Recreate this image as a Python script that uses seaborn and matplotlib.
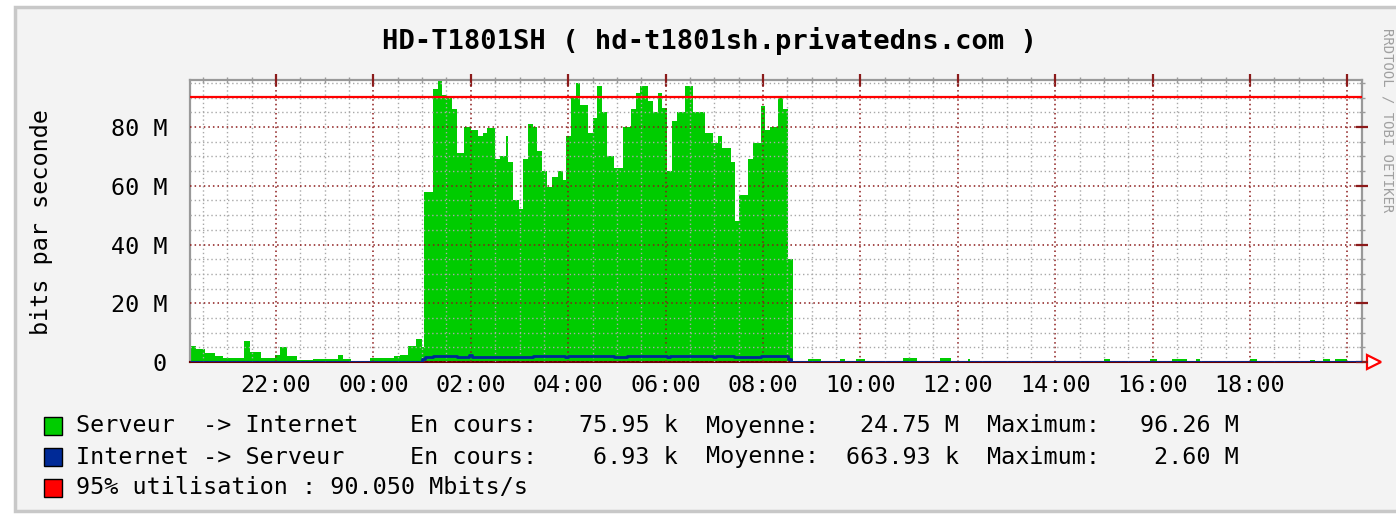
import pandas as pd
import seaborn as sns
import matplotlib.pyplot as plt
import matplotlib.dates as mdates
from matplotlib.patches import Rectangle
from matplotlib.ticker import MultipleLocator, FuncFormatter

# Serveur -> Internet (bits/s, in M), step values starting at each time
green_times = ["20:15", "20:21", "20:33", "20:45", "20:55", "21:20", "21:28", "21:41",
               "21:59", "22:05", "22:14", "22:26", "22:46", "23:16", "23:22", "23:32",
               "23:56", "00:25", "00:33", "00:43", "00:52", "01:00", "01:02", "01:07",
               "01:13", "01:19", "01:25", "01:31", "01:37", "01:43", "01:51", "02:00",
               "02:09", "02:15", "02:20", "02:30", "02:36", "02:43", "02:46", "02:52",
               "02:59", "03:04", "03:10", "03:16", "03:22", "03:28", "03:34", "03:40",
               "03:47", "03:53", "03:57", "04:03", "04:09", "04:15", "04:24", "04:30",
               "04:36", "04:42", "04:48", "04:56", "05:08", "05:17", "05:23", "05:29",
               "05:38", "05:44", "05:50", "05:56", "06:02", "06:08", "06:14", "06:24",
               "06:34", "06:49", "06:58", "07:04", "07:10", "07:20", "07:26", "07:30",
               "07:41", "07:48", "07:57", "08:03", "08:09", "08:19", "08:25", "08:31",
               "08:37", "08:55", "09:11", "09:35", "09:41", "09:54", "10:06", "10:52",
               "11:10", "11:38", "11:51", "12:12", "12:15", "15:00", "15:08", "15:57",
               "16:06", "16:24", "16:43", "16:53", "16:59", "18:00", "18:09", "19:14",
               "19:20", "19:30", "19:38", "19:45", "20:00", "20:18"]
green_vals = [5.5, 4.5, 3.0, 2.0, 1.3, 7.0, 3.5, 1.5,
              2.5, 5.0, 2.0, 0.8, 1.0, 2.5, 1.0, 0.3,
              1.3, 2.0, 2.4, 5.5, 8.0, 5.0, 58, 58,
              93, 96.2, 91, 90, 86, 71, 80, 79,
              77, 78, 79.5, 69, 70, 77, 68, 55,
              52, 69, 81, 80, 72, 65, 59.5, 63,
              65, 62, 77, 90, 95, 87.5, 78, 83,
              94, 85, 70, 66, 80, 86, 91.5, 94,
              89, 85, 91.5, 86.5, 65, 82, 85, 94,
              85, 78, 74.5, 77, 73, 68, 48, 57,
              69, 74.5, 87, 79, 80, 90, 86, 35,
              0.5, 1.0, 0.4, 1.0, 0.4, 1.0, 0.3, 1.4,
              0.4, 1.5, 0.3, 1.0, 0.3, 1.0, 0.3, 1.0,
              0.3, 1.0, 0.3, 1.0, 0.3, 1.0, 0.3, 0.8,
              0.3, 0.9, 0.3, 1.0, 0.3, 0.3]

# Internet -> Serveur
blue_times = ["20:15", "01:00", "01:04", "01:13", "01:43", "01:58", "02:02", "03:16",
              "03:56", "04:00", "04:56", "05:13", "06:02", "06:06", "06:58", "07:02",
              "07:24", "07:58", "08:31", "08:35", "20:18"]
blue_vals = [0.1, 1.0, 1.7, 2.2, 1.7, 2.3, 1.7, 2.0,
             1.7, 2.0, 1.7, 2.0, 1.7, 2.0, 1.7, 2.0,
             1.7, 2.2, 1.0, 0.1, 0.1]

p95 = 90.05

title = "HD-T1801SH ( hd-t1801sh.privatedns.com )"
legend_rows = [
    ("#00CC00", "Serveur  -> Internet", "75.95 k", "24.75 M", "96.26 M"),
    ("#002A97", "Internet -> Serveur", "6.93 k", "663.93 k", "2.60 M"),
]
p95_label = "95% utilisation : 90.050 Mbits/s"


def to_times(labels):
    out, day = [], 0
    for s in labels:
        t = pd.Timestamp("2013-05-01 " + s) + pd.Timedelta(days=day)
        if out and t < out[-1]:
            day += 1
            t += pd.Timedelta(days=1)
        out.append(t)
    return out


green = pd.DataFrame({"time": to_times(green_times), "bits": green_vals})
blue = pd.DataFrame({"time": to_times(blue_times), "bits": blue_vals})

sns.set_style("white")
plt.rcParams["font.family"] = ["DejaVu Sans Mono"]
plt.rcParams["text.color"] = "black"
plt.rcParams["xtick.labelcolor"] = "black"
plt.rcParams["ytick.labelcolor"] = "black"

W, H = 1396, 514
fig = plt.figure(figsize=(W / 100, H / 100), dpi=100, facecolor="white")


def fx(px):
    return px / W


def fy(py):
    return 1 - py / H


# canvas with grey frame
fig.add_artist(Rectangle((fx(15), fy(511)), fx(1400) - fx(15), fy(7) - fy(511),
                         transform=fig.transFigure, facecolor="#F3F3F3",
                         edgecolor="#C8C8C8", lw=2.5, zorder=0))

ax = fig.add_axes([fx(190), fy(362), fx(1362) - fx(190), fy(80) - fy(362)])
ax.set_facecolor("white")

ax.fill_between(green["time"], green["bits"], step="post", color="#00CC00", lw=0, zorder=1)
sns.lineplot(data=blue, x="time", y="bits", ax=ax, color="#002A97", lw=2.0,
             drawstyle="steps-post", zorder=3)
ax.axhline(p95, color="#FF0000", lw=1.6, zorder=3)

ax.set_xlim(pd.Timestamp("2013-05-01 20:14"), pd.Timestamp("2013-05-02 20:18"))
ax.set_ylim(0, 96.0)

ax.xaxis.set_major_locator(mdates.HourLocator(byhour=range(0, 24, 2)))
ax.xaxis.set_minor_locator(mdates.MinuteLocator(byminute=[0, 30]))
ax.xaxis.set_major_formatter(FuncFormatter(
    lambda v, p: "" if mdates.num2date(v).hour == 20 else mdates.num2date(v).strftime("%H:%M")))
ax.yaxis.set_major_locator(MultipleLocator(20))
ax.yaxis.set_minor_locator(MultipleLocator(5))
ax.yaxis.set_major_formatter(FuncFormatter(lambda v, p: "0" if v == 0 else f"{int(v)} M"))

ax.set_axisbelow(False)
ax.grid(which="minor", color="#A8A8A8", linestyle=(0, (1, 2)), lw=1.0)
ax.grid(which="major", color="#8B1A1A", linestyle=(0, (1, 2)), lw=1.1)

ax.tick_params(which="major", direction="inout", length=9, width=1.6, color="#8B1A1A",
               top=True, right=True, labelsize=16.8, pad=4)
ax.tick_params(which="minor", direction="inout", length=5, width=1, color="#999999",
               top=True, right=True)
ax.tick_params(axis="y", which="major", pad=12)
for side in ["left", "top", "right"]:
    ax.spines[side].set_color("#999999")
    ax.spines[side].set_linewidth(1.6)
ax.spines["bottom"].set_color("#6B0000")
ax.spines["bottom"].set_linewidth(1.5)
ax.set_xlabel("")
ax.set_ylabel("")

# arrow at the end of the time axis
ax.plot([1.0, 1.007], [0, 0], transform=ax.transAxes, color="#FF0000", lw=1.5, clip_on=False)
ax.plot([1.010], [0], transform=ax.transAxes, marker=">", ms=10, mfc="white", mec="#FF0000",
        mew=1.6, clip_on=False)

fig.text(fx(709), fy(41), title, ha="center", va="center", fontsize=19.5, fontweight="bold")
fig.text(fx(42), fy(222), "bits par seconde", rotation=90, ha="center", va="center",
         fontsize=16.8)
fig.text(fx(1388), fy(120), "RRDTOOL / TOBI OETIKER", rotation=270, ha="center", va="center",
         fontsize=10, color="#A0A0A0")

# legend
row_y = [426, 457]
for (col, name, cur, avg, mx), y in zip(legend_rows, row_y):
    fig.add_artist(Rectangle((fx(44), fy(y + 9)), fx(18), 18 / H, transform=fig.transFigure,
                             facecolor=col, edgecolor="black", lw=1))
    fig.text(fx(76), fy(y), name, va="center", fontsize=16.8)
    fig.text(fx(410), fy(y), "En cours:", va="center", fontsize=16.8)
    fig.text(fx(678), fy(y), cur, va="center", ha="right", fontsize=16.8)
    fig.text(fx(706), fy(y), "Moyenne:", va="center", fontsize=16.8)
    fig.text(fx(959), fy(y), avg, va="center", ha="right", fontsize=16.8)
    fig.text(fx(987), fy(y), "Maximum:", va="center", fontsize=16.8)
    fig.text(fx(1239), fy(y), mx, va="center", ha="right", fontsize=16.8)

fig.add_artist(Rectangle((fx(44), fy(488 + 9)), fx(18), 18 / H, transform=fig.transFigure,
                         facecolor="#FF0000", edgecolor="black", lw=1))
fig.text(fx(76), fy(488), p95_label, va="center", fontsize=16.8)

fig.savefig("out.png", dpi=100, facecolor="white")
